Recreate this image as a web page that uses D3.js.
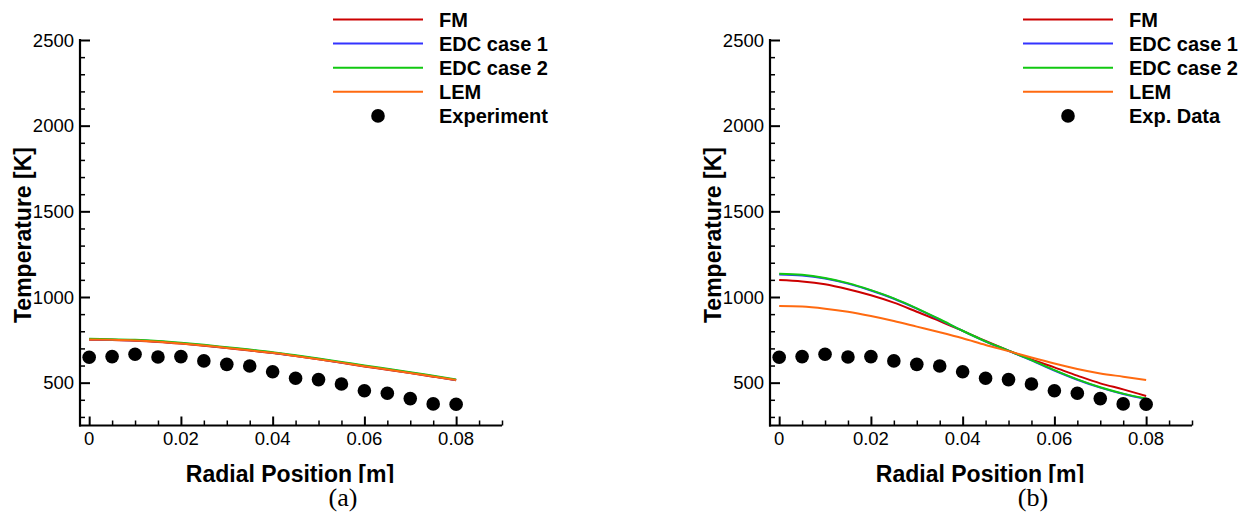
<!DOCTYPE html>
<html>
<head>
<meta charset="utf-8">
<script src="https://cdn.jsdelivr.net/npm/d3@7"></script>
<style>
  body { margin: 0; background: #fff; }
  svg { display: block; }
  .tick-label { font-family: "Liberation Sans", Arial, sans-serif; font-size: 18.5px; fill: #000; }
  .axis-title { font-family: "Liberation Sans", Arial, sans-serif; font-size: 23px; font-weight: bold; fill: #000; }
  .legend-text { font-family: "Liberation Sans", Arial, sans-serif; font-size: 20px; font-weight: bold; fill: #000; }
  .panel-tag { font-family: "Liberation Serif", "DejaVu Serif", serif; font-size: 26px; fill: #000; }
</style>
</head>
<body>
<script>
// radial positions of the samples [m]
var radialPos = [0, 0.005, 0.01, 0.015, 0.02, 0.025, 0.03, 0.035, 0.04,
                 0.045, 0.05, 0.055, 0.06, 0.065, 0.07, 0.075, 0.08];

// experiment (same in both panels)
var expTemp = [648, 652, 666, 650, 652, 627, 607, 597, 564,
               526, 518, 492, 453, 438, 407, 376, 374];

// panel (a)
var aFM   = [751, 749, 745, 738, 728, 716, 702, 688, 673, 655, 636, 616, 595, 576, 556, 535, 514];
var aEDC1 = [753, 751, 747, 740, 730, 718, 704, 690, 675, 657, 638, 618, 597, 578, 558, 537, 516];
var aEDC2 = [756, 754, 750, 743, 733, 721, 707, 693, 678, 660, 641, 621, 600, 581, 561, 540, 519];
var aLEM  = [752, 750, 746, 739, 729, 717, 703, 689, 674, 656, 637, 617, 596, 577, 557, 536, 515];

// panel (b)
var bFM   = [1099, 1091, 1074, 1045, 1010, 967, 914, 860, 802, 743, 687, 636, 589, 541, 496, 461, 422];
var bEDC1 = [1132, 1126, 1108, 1078, 1038, 990, 932, 868, 802, 740, 686, 630, 571, 517, 471, 434, 405];
var bEDC2 = [1136, 1130, 1111, 1081, 1040, 992, 934, 870, 803, 741, 687, 632, 573, 519, 473, 436, 407];
var bLEM  = [947, 944, 932, 914, 889, 860, 827, 794, 759, 720, 684, 647, 612, 580, 554, 535, 516];

var seriesNames  = ["FM", "EDC case 1", "EDC case 2", "LEM"];
var seriesColors = ["#cc0000", "#3333ff", "#11c811", "#ff6a10"];
var expLabels    = ["Experiment", "Exp. Data"];
var panelTags    = ["(a)", "(b)"];

var yTickVals = [500, 1000, 1500, 2000, 2500];
var xTickVals = [0, 0.02, 0.04, 0.06, 0.08];

var panels = [
  { dx: 0,   lines: [aFM, aEDC1, aEDC2, aLEM], expLabel: expLabels[0], tag: panelTags[0] },
  { dx: 690, lines: [bFM, bEDC1, bEDC2, bLEM], expLabel: expLabels[1], tag: panelTags[1] }
];

var svg = d3.select("body").append("svg")
  .attr("width", 1242)
  .attr("height", 512);

svg.append("defs").append("clipPath")
  .attr("id", "titleClip")
  .append("rect")
  .attr("x", 0).attr("y", 0).attr("width", 1242).attr("height", 483);

var xScale = d3.scaleLinear().domain([-0.002, 0.09]).range([80, 502]);
var yScale = d3.scaleLinear().domain([250, 2500]).range([425.5, 40]);

var line = d3.line()
  .x(function (d) { return xScale(d.x); })
  .y(function (d) { return yScale(d.y); })
  .curve(d3.curveMonotoneX);

panels.forEach(function (p) {
  var g = svg.append("g").attr("transform", "translate(" + p.dx + ",0)");

  // curves
  p.lines.forEach(function (vals, i) {
    var pts = radialPos.map(function (x, j) { return { x: x, y: vals[j] }; });
    g.append("path")
      .datum(pts)
      .attr("d", line)
      .attr("fill", "none")
      .attr("stroke", seriesColors[i])
      .attr("stroke-width", 2);
  });

  // experiment dots
  g.selectAll(".dot")
    .data(radialPos.map(function (x, j) { return { x: x, y: expTemp[j] }; }))
    .enter().append("circle")
    .attr("class", "dot")
    .attr("cx", function (d) { return xScale(d.x); })
    .attr("cy", function (d) { return yScale(d.y); })
    .attr("r", 6.8)
    .attr("fill", "#000");

  // x axis (ticks point inward)
  var xAxis = g.append("g").attr("transform", "translate(0," + yScale.range()[0] + ")");
  xAxis.call(d3.axisTop(xScale).tickValues(d3.range(0, 0.0901, 0.005)).tickSize(5).tickFormat(""))
    .call(function (s) { s.select(".domain").remove(); });
  xAxis.selectAll(".tick line").attr("stroke-width", 1.5);
  xAxis.call(function (s) {
    s.selectAll(".tick").filter(function (d) { return xTickVals.some(function (v) { return Math.abs(v - d) < 1e-9; }); })
      .select("line").attr("y2", -9).attr("stroke-width", 2);
  });
  xAxis.append("line")
    .attr("x1", xScale.range()[0] - 1).attr("x2", xScale.range()[1])
    .attr("stroke", "#000").attr("stroke-width", 2.2);
  xTickVals.forEach(function (v) {
    g.append("text")
      .attr("class", "tick-label")
      .attr("x", xScale(v))
      .attr("y", 445)
      .attr("text-anchor", "middle")
      .text(v === 0 ? "0" : d3.format(".2f")(v));
  });

  // y axis (ticks point inward)
  var yAxis = g.append("g").attr("transform", "translate(" + xScale.range()[0] + ",0)");
  yAxis.call(d3.axisRight(yScale).tickValues(d3.range(300, 2501, 100)).tickSize(5).tickFormat(""))
    .call(function (s) { s.select(".domain").remove(); });
  yAxis.selectAll(".tick line").attr("stroke-width", 1.5);
  yAxis.selectAll(".tick").filter(function (d) { return yTickVals.indexOf(d) >= 0; })
    .select("line").attr("x2", 10).attr("stroke-width", 2);
  yAxis.append("line")
    .attr("y1", yScale.range()[0] + 1).attr("y2", yScale.range()[1] - 1)
    .attr("stroke", "#000").attr("stroke-width", 2.2);
  yTickVals.forEach(function (v) {
    g.append("text")
      .attr("class", "tick-label")
      .attr("x", 74)
      .attr("y", yScale(v))
      .attr("dy", "0.36em")
      .attr("text-anchor", "end")
      .text(v);
  });

  // axis titles
  g.append("text")
    .attr("class", "axis-title")
    .attr("x", 290)
    .attr("y", 482)
    .attr("text-anchor", "middle")
    .attr("clip-path", "url(#titleClip)")
    .text("Radial Position [m]");
  g.append("text")
    .attr("class", "axis-title")
    .attr("transform", "translate(23,235) rotate(-90)")
    .attr("dy", "0.36em")
    .attr("text-anchor", "middle")
    .text("Temperature [K]");

  // legend
  var legend = g.append("g");
  seriesNames.forEach(function (name, i) {
    var ly = 19.5 + i * 24.1;
    legend.append("line")
      .attr("x1", 333).attr("x2", 423)
      .attr("y1", ly).attr("y2", ly)
      .attr("stroke", seriesColors[i]).attr("stroke-width", 2);
    legend.append("text")
      .attr("class", "legend-text")
      .attr("x", 439).attr("y", ly).attr("dy", "0.36em")
      .text(name);
  });
  var ey = 19.5 + 4 * 24.1;
  legend.append("circle").attr("cx", 378).attr("cy", ey).attr("r", 6.8).attr("fill", "#000");
  legend.append("text")
    .attr("class", "legend-text")
    .attr("x", 439).attr("y", ey).attr("dy", "0.36em")
    .text(p.expLabel);

  // panel tag
  g.append("text")
    .attr("class", "panel-tag")
    .attr("x", 343)
    .attr("y", 506)
    .attr("text-anchor", "middle")
    .text(p.tag);
});
</script>
</body>
</html>
